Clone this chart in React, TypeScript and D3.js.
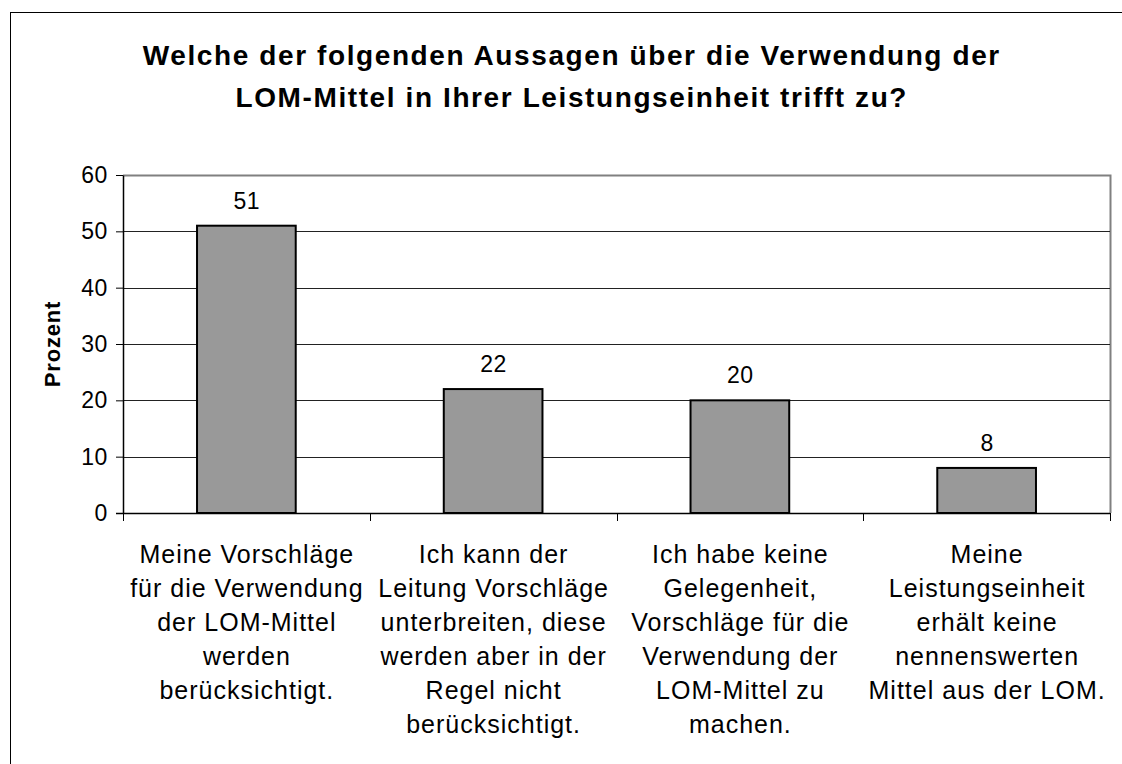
import * as d3 from 'd3'
import React from 'react'

const titleLines = [
    'Welche der folgenden Aussagen über die Verwendung der',
    'LOM-Mittel in Ihrer Leistungseinheit trifft zu?',
]
const categories = [
    ['Meine Vorschläge', 'für die Verwendung', 'der LOM-Mittel', 'werden', 'berücksichtigt.'],
    ['Ich kann der', 'Leitung Vorschläge', 'unterbreiten, diese', 'werden aber in der', 'Regel nicht', 'berücksichtigt.'],
    ['Ich habe keine', 'Gelegenheit,', 'Vorschläge für die', 'Verwendung der', 'LOM-Mittel zu', 'machen.'],
    ['Meine', 'Leistungseinheit', 'erhält keine', 'nennenswerten', 'Mittel aus der LOM.'],
]
const values = [51, 22, 20, 8]
const yTicks = [0, 10, 20, 30, 40, 50, 60]
const yLabel = 'Prozent'

const W = 1122
const H = 764
const plot = { left: 123, top: 175, right: 1110, bottom: 513 }
const font = '"Liberation Sans", Arial, sans-serif'

export default function App() {
    const svgRef = React.useRef<SVGSVGElement | null>(null)

    React.useEffect(() => {
        document.body.style.margin = '0'
        const svg = d3.select(svgRef.current)
        svg.selectAll('*').remove()

        const x = d3
            .scaleBand<number>()
            .domain(d3.range(categories.length))
            .range([plot.left, plot.right])
            .paddingInner(0.6)
            .paddingOuter(0.3)
        const band = (plot.right - plot.left) / categories.length
        const y = d3.scaleLinear().domain([0, 60]).range([plot.bottom, plot.top])

        // outer frame
        svg.append('rect')
            .attr('x', 10.5)
            .attr('y', 12.5)
            .attr('width', W + 20)
            .attr('height', H + 20)
            .attr('fill', 'white')
            .attr('stroke', '#000')

        // title
        const titleLs = 1.6
        svg.append('text')
            .attr('text-anchor', 'middle')
            .attr('font-family', font)
            .attr('font-weight', 'bold')
            .attr('font-size', 28)
            .attr('letter-spacing', titleLs)
            .selectAll('tspan')
            .data(titleLines)
            .join('tspan')
            .attr('x', 571 + titleLs / 2)
            .attr('y', (d, i) => 65 + i * 42)
            .text((d) => d)

        // plot frame (top/right in gray)
        svg.append('path')
            .attr('d', `M${plot.left},${plot.top + 0.5}H${plot.right + 0.5}V${plot.bottom}`)
            .attr('fill', 'none')
            .attr('stroke', '#808080')
            .attr('stroke-width', 2)

        // gridlines
        svg.append('g')
            .selectAll('line')
            .data(yTicks.filter((t) => t > 0 && t < 60))
            .join('line')
            .attr('x1', plot.left)
            .attr('x2', plot.right)
            .attr('y1', (d) => Math.round(y(d)) + 0.5)
            .attr('y2', (d) => Math.round(y(d)) + 0.5)
            .attr('stroke', '#222')

        // y axis
        const yAxis = svg
            .append('g')
            .attr('transform', `translate(${plot.left},0)`)
            .call(d3.axisLeft(y).tickValues(yTicks).tickSize(7).tickSizeOuter(0).tickPadding(8))
        yAxis.select('.domain').attr('stroke', '#000').attr('stroke-width', 1.5)
        yAxis.selectAll('line').attr('stroke', '#000')
        yAxis.selectAll('text')
            .attr('font-family', font)
            .attr('font-size', 23)
            .attr('letter-spacing', 0.6)
            .attr('fill', '#000')

        // y label
        svg.append('text')
            .attr('transform', `translate(52,${(plot.top + plot.bottom) / 2}) rotate(-90)`)
            .attr('text-anchor', 'middle')
            .attr('dy', '0.35em')
            .attr('font-family', font)
            .attr('font-weight', 'bold')
            .attr('font-size', 22)
            .attr('letter-spacing', 0.8)
            .text(yLabel)

        // bars
        svg.append('g')
            .selectAll('rect')
            .data(values)
            .join('rect')
            .attr('x', (d, i) => x(i)!)
            .attr('y', (d) => y(d))
            .attr('width', x.bandwidth())
            .attr('height', (d) => y(0) - y(d))
            .attr('fill', '#999999')
            .attr('stroke', '#000')
            .attr('stroke-width', 2)

        // value labels
        svg.append('g')
            .selectAll('text')
            .data(values)
            .join('text')
            .attr('x', (d, i) => x(i)! + x.bandwidth() / 2 + 0.5)
            .attr('y', (d) => y(d) - 17)
            .attr('text-anchor', 'middle')
            .attr('font-family', font)
            .attr('font-size', 23)
            .attr('letter-spacing', 0.6)
            .text((d) => d)

        // x axis line + ticks at category boundaries
        svg.append('line')
            .attr('x1', plot.left - 7)
            .attr('x2', plot.right)
            .attr('y1', plot.bottom + 0.5)
            .attr('y2', plot.bottom + 0.5)
            .attr('stroke', '#000')
            .attr('stroke-width', 1.5)
        svg.append('g')
            .selectAll('line')
            .data(d3.range(categories.length + 1))
            .join('line')
            .attr('x1', (d) => Math.round(plot.left + d * band) + 0.5)
            .attr('x2', (d) => Math.round(plot.left + d * band) + 0.5)
            .attr('y1', plot.bottom)
            .attr('y2', plot.bottom + 8)
            .attr('stroke', '#000')

        // category labels
        const catLs = 1
        svg.append('g')
            .selectAll('text')
            .data(categories)
            .join('text')
            .attr('text-anchor', 'middle')
            .attr('font-family', font)
            .attr('font-size', 25)
            .attr('letter-spacing', catLs)
            .each(function (lines, i) {
                const cx = x(i)! + x.bandwidth() / 2 + catLs / 2
                d3.select(this)
                    .selectAll('tspan')
                    .data(lines)
                    .join('tspan')
                    .attr('x', cx)
                    .attr('y', (d, j) => 563 + j * 34)
                    .text((d) => d)
            })
    }, [])

    return (
        <svg
            ref={svgRef}
            width={W}
            height={H}
            style={{ display: 'block', position: 'absolute', left: 0, top: 0, background: 'white' }}
        />
    )
}
